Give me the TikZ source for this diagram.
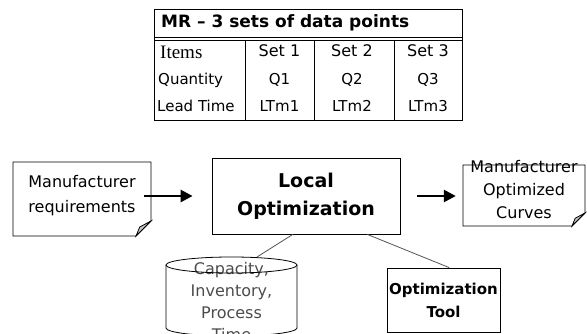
\documentclass[tikz,border=0pt]{standalone}
\usepackage{fontspec}
\setmainfont{DejaVu Sans}
\newfontfamily\itemsfont{Liberation Serif}
\usetikzlibrary{calc, arrows.meta}

\begin{document}
\begin{tikzpicture}[
    x=1pt, y=-1pt,
    cell/.style={inner sep=0pt, font=\fontsize{15}{18}\selectfont},
    block/.style={inner sep=0pt, align=center, font=\fontsize{16}{25}\selectfont},
    outline/.style={draw, line width=0.8pt},
    edge/.style={draw, gray!65!black, line width=0.8pt},
    flow/.style={draw, line width=2.6pt, -{Triangle[length=12pt,width=12pt]}}
]
    \useasboundingbox (0,0) rectangle (587,333);

    % Table
    \draw[outline] (154,9) rectangle (462,120);
    \draw[outline] (154,37) -- (462,37) (154,40) -- (462,40);
    \foreach \x in {245,314,394} \draw[outline] (\x,40) -- (\x,120);
    \node[cell, anchor=west, font=\bfseries\fontsize{17}{20}\selectfont] (title) at (161,23) {MR – 3 sets of data points};
    \node[cell, anchor=west, font=\itemsfont\fontsize{19}{20}\selectfont] (items) at (160,52) {Items};
    \node[cell, anchor=west] (qty) at (158,80) {Quantity};
    \node[cell, anchor=west] (lead) at (157,106) {Lead Time};
    \foreach \c/\x in {1/279.5, 2/352, 3/428} {
        \node[cell, font=\fontsize{16}{18}\selectfont] (set\c) at (\x,51) {Set \c};
        \node[cell] (q\c) at (\x,80) {Q\c};
        \node[cell] (ltm\c) at (\x,106) {LTm\c};
    }

    % Flow
    \node[block] (req) at (82,196) {Manufacturer\\requirements};
    \node[block, outline, minimum width=188pt, minimum height=76pt, font=\bfseries\fontsize{19}{28}\selectfont] (lopt) at (306,196) {Local\\Optimization};
    \node[block, minimum width=122pt, font=\fontsize{16}{23}\selectfont] (curves) at (524,190) {Manufacturer\\Optimized\\Curves};
    \node[block, outline, minimum width=113pt, minimum height=64pt, font=\bfseries\fontsize{15}{23}\selectfont] (tool) at (443.5,300) {Optimization\\Tool};
    \node[block, text=gray!60!black, font=\fontsize{16}{22}\selectfont] (db) at (231.5,302) {Capacity,\\Inventory,\\Process\\Time};

    % Folded documents
    \foreach \n/\hw/\ya/\yb/\fs in {req/69/-34/40/15, curves/61/-25/36/13} {
        \draw[outline] ($(\n.center)+(-\hw,\ya)$) -- ($(\n.center)+(\hw,\ya)$) -- ($(\n.center)+(\hw,\yb-\fs)$)
            -- ($(\n.center)+(\hw-\fs,\yb)$) -- ($(\n.center)+(-\hw,\yb)$) -- cycle;
        \draw[outline, fill=gray!45] ($(\n.center)+(\hw-\fs,\yb)$) -- ($(\n.center)+(\hw,\yb-\fs)$)
            -- ($(\n.center)+(\hw-0.75*\fs,\yb-0.6*\fs)$) -- cycle;
    }

    % Data store
    \draw[outline] (231.5,265) ellipse [x radius=65.5pt, y radius=8pt];
    \draw[outline] (166,265) -- (166,328) arc[start angle=180, end angle=360, x radius=65.5pt, y radius=8pt] -- (297,265);
    \coordinate (dbtop) at (257,257);

    % Connections
    \draw[flow, shorten <=8pt, shorten >=19pt] (req.east) -- (req.east -| lopt.west);
    \draw[flow, shorten <=17pt, shorten >=7pt] (lopt.east) -- (lopt.east -| curves.west);
    \draw[edge] ($(lopt.south west)!0.43!(lopt.south east)$) -- (dbtop);
    \draw[edge] ($(lopt.south west)!0.825!(lopt.south east)$) -- ($(tool.north west)!0.55!(tool.north east)$);
\end{tikzpicture}
\end{document}
